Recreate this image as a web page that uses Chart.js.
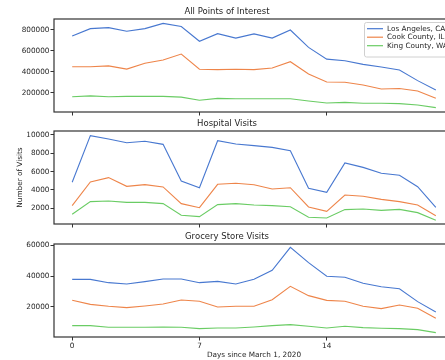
<!DOCTYPE html>
<html>
<head>
<meta charset="utf-8">
<script src="https://cdn.jsdelivr.net/npm/chart.js@4/dist/chart.umd.min.js"></script>
<style>
  html, body { margin: 0; padding: 0; background: #fff; width: 445px; height: 360px; overflow: hidden; }
  #wrap { position: relative; width: 445px; height: 360px; overflow: hidden; }
  canvas { position: absolute; left: 0; }
</style>
</head>
<body>
<div id="wrap">
  <canvas id="poi" width="460" height="118" style="top:0px;width:460px;height:118px"></canvas>
  <canvas id="hosp" width="460" height="118" style="top:112px;width:460px;height:118px"></canvas>
  <canvas id="groc" width="460" height="135" style="top:225px;width:460px;height:135px"></canvas>
</div>
<script>
// days since March 1, 2020
const days = [0,1,2,3,4,5,6,7,8,9,10,11,12,13,14,15,16,17,18,19,20];
const seriesLabels = ['Los Angeles, CA', 'Cook County, IL', 'King County, WA'];
const colors = ['#4878d0', '#ee854a', '#6acc64'];

// All Points of Interest
const laPoi   = [740000,810000,820000,785000,810000,860000,830000,690000,762000,720000,760000,720000,797000,632000,520000,505000,470000,445000,416000,315000,226000];
const cookPoi = [447000,447000,455000,425000,480000,511000,568000,423000,420000,423000,420000,435000,495000,378000,302000,300000,273000,235000,240000,216000,147000];
const kingPoi = [162000,170000,162000,165000,165000,165000,158000,128000,146000,143000,143000,143000,143000,121000,102000,108000,100000,100000,96000,83000,58000];

// Hospital Visits
const laHosp   = [4840,9930,9560,9160,9310,8980,4980,4250,9380,9020,8840,8650,8290,4180,3750,6950,6470,5820,5600,4360,2110];
const cookHosp = [2290,4870,5350,4400,4580,4330,2510,2070,4620,4730,4580,4110,4250,2150,1670,3450,3310,2980,2730,2360,1200];
const kingHosp = [1350,2730,2800,2650,2650,2510,1240,1090,2400,2510,2360,2290,2180,1020,950,1860,1930,1780,1890,1530,690];

// Grocery Store Visits
const laGroc   = [37850,37850,35700,34850,36350,38070,38070,35700,36560,34850,37850,43660,58500,48600,39800,39150,35300,33100,31800,23450,16800];
const cookGroc = [24300,21700,20440,19580,20650,21950,24500,23670,20000,20440,20440,24740,33340,27320,24300,23670,20440,18940,21300,19150,12700];
const kingGroc = [7970,7970,6900,6900,6900,7100,6900,6040,6470,6470,7100,7970,8600,7540,6470,7540,6680,6250,6040,5390,3460];

const xTicks = [0, 7, 14];
const poiTicks = [200000, 400000, 600000, 800000];
const hospTicks = [2000, 4000, 6000, 8000, 10000];
const grocTicks = [20000, 40000, 60000];

const FONT = 'DejaVu Sans';
const TXT = '#262626';

// box around the plotting area, like matplotlib spines
const framePlugin = {
  id: 'frame',
  afterDraw(chart) {
    const a = chart.chartArea, c = chart.ctx;
    c.save();
    c.strokeStyle = '#333';
    c.lineWidth = 1.2;
    c.strokeRect(a.left, a.top, a.right - a.left, a.bottom - a.top);
    c.restore();
  }
};

// legend in the upper right of the top panel
const boxLegend = {
  id: 'boxLegend',
  afterDraw(chart, args, opts) {
    if (!opts.show) return;
    const c = chart.ctx;
    const x0 = 364.5, y0 = 22.5;
    c.save();
    c.fillStyle = 'rgba(255,255,255,0.85)';
    c.strokeStyle = '#d0d0d0';
    c.lineWidth = 1;
    c.beginPath();
    c.roundRect(x0, y0, chart.chartArea.right - 4 - x0, 34.5, 2);
    c.fill();
    c.stroke();
    c.font = '7.3px ' + FONT;
    c.textBaseline = 'middle';
    c.fillStyle = TXT;
    chart.data.datasets.forEach((ds, i) => {
      const y = 28.7 + i * 8.5;
      c.strokeStyle = ds.borderColor;
      c.lineWidth = 1.2;
      c.beginPath();
      c.moveTo(367, y);
      c.lineTo(383, y);
      c.stroke();
      c.fillText(ds.label, 387, y);
    });
    c.restore();
  }
};

function makeDatasets(vals) {
  return vals.map((v, i) => ({
    label: seriesLabels[i],
    data: days.map((d, j) => ({x: d, y: v[j]})),
    borderColor: colors[i],
    borderWidth: 1.1,
    pointRadius: 0,
    tension: 0,
    fill: false
  }));
}

function makeChart(id, title, vals, yMin, yMax, yTicks, opt) {
  const ctx = document.getElementById(id).getContext('2d');
  return new Chart(ctx, {
    type: 'line',
    data: { datasets: makeDatasets(vals) },
    plugins: [framePlugin, boxLegend],
    options: {
      responsive: false,
      animation: false,
      devicePixelRatio: 1,
      layout: { padding: { left: 0, right: 6, top: 0, bottom: 0 } },
      plugins: {
        legend: { display: false },
        tooltip: { enabled: false },
        title: {
          display: true,
          text: title,
          color: TXT,
          font: { family: FONT, size: 8.5, weight: 'normal' },
          padding: { top: 6.4, bottom: 2.4 }
        },
        boxLegend: { show: !!opt.legend }
      },
      scales: {
        x: {
          type: 'linear',
          min: -1,
          max: 21,
          afterBuildTicks: s => { s.ticks = xTicks.map(v => ({value: v})); },
          afterFit: s => { s.height = opt.xHeight; },
          border: { display: false },
          grid: { drawOnChartArea: false, drawTicks: true, tickLength: 3.5, color: '#333', lineWidth: 1 },
          ticks: {
            display: !!opt.xLabels,
            color: TXT,
            padding: 1,
            maxRotation: 0,
            font: { family: FONT, size: 7.3 },
            callback: v => String(v)
          },
          title: {
            display: !!opt.xLabels,
            text: 'Days since March 1, 2020',
            color: TXT,
            font: { family: FONT, size: 7.3 },
            padding: { top: 0, bottom: 1 }
          }
        },
        y: {
          min: yMin,
          max: yMax,
          afterBuildTicks: s => { s.ticks = yTicks.map(v => ({value: v})); },
          afterFit: s => { s.width = 54; },
          border: { display: false },
          grid: { drawOnChartArea: false, drawTicks: true, tickLength: 3.5, color: '#333', lineWidth: 1 },
          ticks: {
            color: TXT,
            padding: 1,
            font: { family: FONT, size: 7.3 },
            callback: v => String(v)
          },
          title: {
            display: !!opt.yTitle,
            text: 'Number of Visits',
            color: TXT,
            font: { family: FONT, size: 7.3 },
            padding: { top: 15.6, bottom: 0 }
          }
        }
      }
    }
  });
}

makeChart('poi', 'All Points of Interest', [laPoi, cookPoi, kingPoi], 16170, 901900, poiTicks, { legend: true, xHeight: 6 });
makeChart('hosp', 'Hospital Visits', [laHosp, cookHosp, kingHosp], 290, 10436, hospTicks, { yTitle: true, xHeight: 6 });
makeChart('groc', 'Grocery Store Visits', [laGroc, cookGroc, kingGroc], 640, 60650, grocTicks, { xLabels: true, xHeight: 23 });
</script>
</body>
</html>
